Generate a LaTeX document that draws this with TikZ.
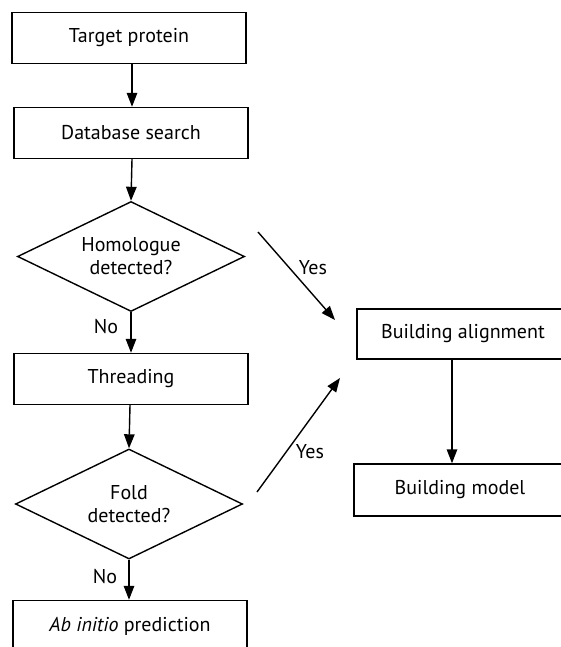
\documentclass[tikz,border=0pt]{standalone}
\usepackage{fontspec}
\setmainfont{PT Sans}
\usetikzlibrary{shapes.geometric,arrows.meta}
\begin{document}
\begin{tikzpicture}[x=1pt,y=-1pt,
  box/.style={draw,line width=1.4pt,rectangle,minimum width=234pt,minimum height=51pt,inner sep=0pt,font=\fontsize{20}{23}\selectfont},
  dia/.style={draw,line width=1.4pt,diamond,aspect=2.07,inner sep=0pt,minimum width=227pt,minimum height=110pt,align=center,font=\fontsize{20}{23}\selectfont},
  arr/.style={line width=1.4pt,-{Triangle[length=14pt,width=10.5pt]}},
  lab/.style={font=\fontsize{20}{23}\selectfont,inner sep=0pt}]
\clip (0,0) rectangle (561,647);
\node[box] (t) at (129,38) {Target protein};
\node[box] (d) at (131,133) {Database search};
\node[dia] (h) at (131,256.5) {Homologue\\detected?};
\node[box] (th) at (131,379) {Threading};
\node[dia] (f) at (129,504) {Fold\\detected?};
\node[box] (ab) at (130,626) {\textit{Ab initio} prediction};
\node[box,minimum width=212pt,minimum height=50pt] (ba) at (463,334) {Building alignment};
\node[box,minimum width=212pt,minimum height=52pt] (bm) at (460,490) {Building model};
\coordinate (y1s) at (258,232);
\coordinate (y1e) at (335,320);
\coordinate (y2s) at (257,492);
\coordinate (y2e) at (340,378);
\draw[arr] (t.south -| 132,0) -- (d.north -| 132,0);
\draw[arr] (d.south -| 132,0) -- (h.north);
\draw[arr] (h.south) -- (th.north -| h.south);
\draw[arr] (th.south -| 130,0) -- (f.north);
\draw[arr] (f.south) -- (ab.north -| f.south);
\draw[arr] (ba.south -| 452,0) -- (bm.north -| 452,0);
\draw[arr] (y1s) -- (y1e);
\draw[arr] (y2s) -- (y2e);
\node[lab] (no1) at (106,327) {No};
\node[lab] (no2) at (105,577) {No};
\node[lab] (yes1) at (313,268) {Yes};
\node[lab] (yes2) at (310,452) {Yes};
\end{tikzpicture}
\end{document}
